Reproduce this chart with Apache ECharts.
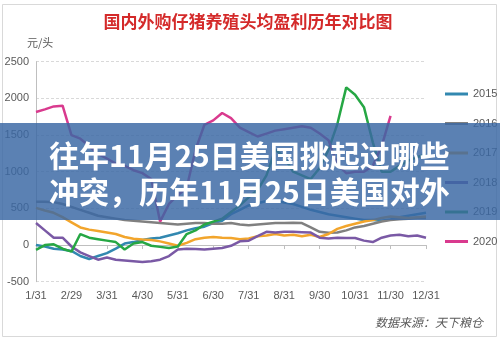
<!DOCTYPE html>
<html><head><meta charset="utf-8">
<script src="https://cdn.jsdelivr.net/npm/echarts@6/dist/echarts.min.js"></script>
<style>html,body{margin:0;padding:0;background:#fff}#c{width:500px;height:345px}</style>
</head><body><div id="c"></div>
<script>
const tickLabels = ['1/31','2/29','3/31','4/30','5/31','6/30','7/31','8/31','9/30','10/31','11/30','12/31'];
const seriesNames = ['2015','2016','2017','2018','2019','2020'];
const s2015 = [0,-20,-50,-60,-80,-150,-190,-150,-110,-50,20,40,70,90,100,130,160,200,230,250,300,330,420,480,540,570,600,600,580,560,520,480,450,420,400,380,360,340,340,330,350,380,400,420,440];
const s2016 = [590,590,585,560,520,480,440,400,380,360,340,330,320,310,300,290,280,290,300,300,290,290,300,280,270,280,290,300,300,305,300,240,180,166,170,200,240,260,290,320,340,350,360,370,370];
const s2017 = [507,470,440,380,310,240,210,190,170,150,110,85,75,70,50,20,-10,30,80,100,110,100,95,80,90,120,130,150,130,140,120,140,110,150,220,260,290,320,340,370,390,380,370,380,390];
const s2018 = [300,200,100,100,-20,-100,-150,-200,-170,-200,-210,-220,-230,-220,-200,-150,-60,-50,-55,-60,-50,-40,-10,50,60,120,180,170,180,180,175,170,100,90,100,95,95,60,40,100,130,140,120,130,100];
const s2019 = [-65,0,10,-50,-90,150,100,80,60,40,-60,20,40,-10,-25,-40,-20,150,200,280,320,360,450,540,650,750,950,1300,1200,1000,950,900,1050,1300,1650,2150,2050,1880,1400,1000,1000,1080,1150,1200,1230];
const s2020 = [1814,1850,1890,1900,1500,1450,1350,1240,1180,1110,1080,1020,980,900,320,560,680,780,1300,1640,1700,1800,1730,1600,1540,1480,1520,1560,1580,1600,1620,1600,1520,1430,1100,980,1000,1000,1080,1350,1760,null,null,null,null];
const colors = ['#3288b0','#808080','#f2a52c','#7a59a5','#26a744','#d93a8e'];

const cats = s2015.map((_, i) => String(i));
const all = [s2015,s2016,s2017,s2018,s2019,s2020];
const chart = echarts.init(document.getElementById('c'));
chart.setOption({
  animation:false,
  backgroundColor:'#fff',
  grid:{left:36,right:74,top:61.7,bottom:63.3},
  legend:{orient:'vertical',left:440,top:82,itemWidth:23,itemHeight:3,itemGap:15.5,icon:'rect',
    data:seriesNames,textStyle:{color:'#595959',fontSize:11,fontFamily:'Liberation Sans',lineHeight:14}},
  xAxis:{type:'category',data:cats,boundaryGap:false,
    axisLine:{lineStyle:{color:'#bfbfbf'}},
    axisTick:{interval:3,length:4,lineStyle:{color:'#bfbfbf'}},
    axisLabel:{interval:3,color:'#595959',fontSize:11,fontFamily:'Liberation Sans',margin:9,
      formatter:(v,i)=> (i%4===0? tickLabels[i/4] : '')}},
  yAxis:{type:'value',min:-500,max:2500,interval:500,
    axisLine:{show:true,lineStyle:{color:'#bfbfbf'}},
    axisLabel:{color:'#595959',fontSize:11,fontFamily:'Liberation Sans',margin:7,formatter:v=>String(v)},
    splitLine:{lineStyle:{color:'#d9d9d9',type:[3,2]}}},
  series: all.map((d,k)=>({name:seriesNames[k],type:'line',data:d,symbol:'none',
    lineStyle:{width:2.5,color:colors[k]},itemStyle:{color:colors[k]},z:2+k})),
  graphic:[
    {type:'rect',shape:{x:2.5,y:4.5,width:494,height:332},style:{fill:'none',stroke:'#d9d9d9',lineWidth:1},z:-1},
    {type:'text',x:248,y:22,style:{text:'国内外购仔猪养殖头均盈利历年对比图',fill:'#d42a2a',font:'bold 17px "Noto Sans CJK SC"',textAlign:'center',textVerticalAlign:'middle'}},
    {type:'text',x:27,y:43,style:{text:'元/头',fill:'#595959',font:'11px "Noto Sans CJK SC"',textVerticalAlign:'middle'}},
    {type:'text',x:375,y:322,style:{text:'数据来源：天下粮仓',fill:'#595959',font:'italic 12px "Noto Sans CJK SC"',textVerticalAlign:'middle'}},
    {type:'rect',shape:{x:0,y:123,width:500,height:97},style:{fill:'rgba(58,103,163,0.83)'},z:100},
    {type:'text',x:49,y:156,style:{text:'往年11月25日美国挑起过哪些',fill:'#fff',font:'bold 30px "Noto Sans CJK SC"',textVerticalAlign:'middle'},z:101},
    {type:'text',x:49,y:192,style:{text:'冲突，历年11月25日美国对外',fill:'#fff',font:'bold 30px "Noto Sans CJK SC"',textVerticalAlign:'middle'},z:101}
  ]
});
</script></body></html>
